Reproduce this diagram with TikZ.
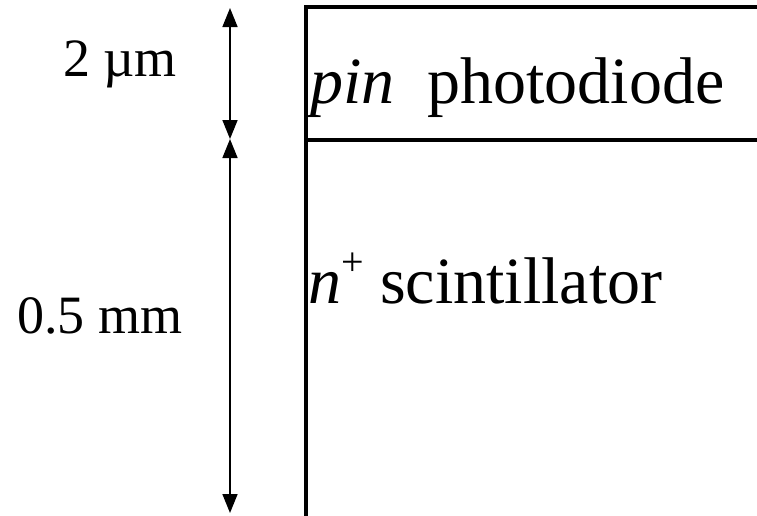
\documentclass[tikz,border=0pt]{standalone}
\usepackage{fontspec}
\setmainfont{Liberation Serif}
\usetikzlibrary{arrows.meta,positioning}
\tikzset{
     dim node/.style={font=\fontsize{54}{60}\selectfont, anchor=base, inner sep=0pt},
     layer node/.style={font=\fontsize{66}{72}\selectfont, anchor=base west, inner sep=0pt},
      dimedge/.style   = {black, line width=1.6pt, <->, >={Triangle[width=15pt,length=19pt]}},
      wall/.style = {black, line width=4pt, line join=miter},
    }
\newcommand{\plussup}{\raisebox{0.42em}{\fontsize{40}{40}\selectfont +}}

\begin{document}
\begin{tikzpicture}[x=1pt,y=-1pt]
        \useasboundingbox (0,0) rectangle (757,515);
        % dimension ends
        \coordinate (dtop) at (230,8);
        \coordinate (dmid) at (230,139);
        \coordinate (dbot) at (230,513);
        % layer corners
        \coordinate (tl) at (306,7);
        \coordinate (tr) at (760,7);
        \coordinate (ml) at (306,140);
        \coordinate (mr) at (760,140);
        \coordinate (bl) at (306,517);

        \draw [wall] (tr) -- (tl) -- (bl);
        \draw [wall] (ml) -- (mr);

        \draw [dimedge] (dtop) -- (dmid);
        \draw [dimedge] (dmid) -- (dbot);

        \node [dim node] (thin) at (120,76)  {2 µm};
        \node [dim node] (thick) at (100,333) {0.5 mm};
        \node [layer node] (pin) at (310,103) {\textit{pin}\ \ photodiode};
        \node [layer node] (sub) at (308,303) {\textit{n}\plussup\ scintillator};
    \end{tikzpicture}
\end{document}
